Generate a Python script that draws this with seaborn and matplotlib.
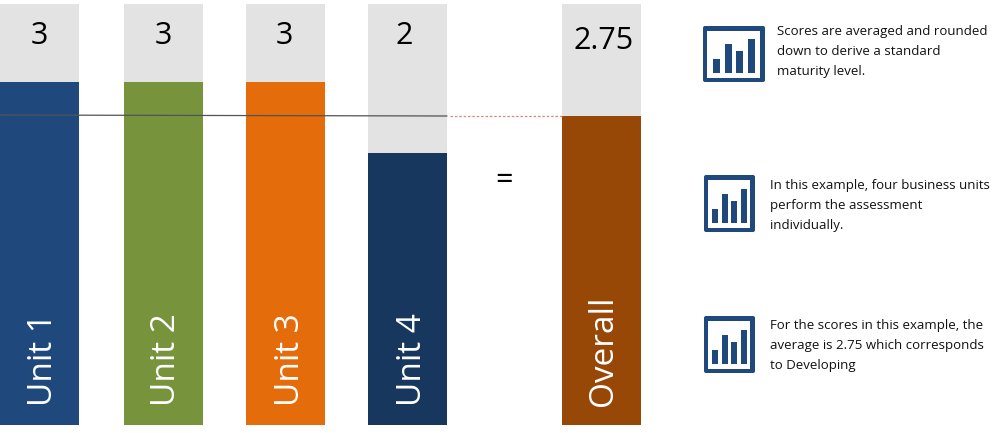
import numpy as np
import pandas as pd
import matplotlib
matplotlib.use('Agg')
import matplotlib.pyplot as plt
from matplotlib.patches import FancyBboxPatch, Rectangle
import seaborn as sns

categories = ['Unit 1', 'Unit 2', 'Unit 3', 'Unit 4', 'Overall']
score_labels = ['3', '3', '3', '2', '2.75']
# filled height of each column (pixels above the base)
fill_heights = [343, 343, 343, 272, 309]
track_heights = [421, 421, 421, 421, 421]
icon_values = [14, 29, 22, 34]
notes = [
    'Scores are averaged and rounded\ndown to derive a standard\nmaturity level.',
    'In this example, four business units\nperform the assessment\nindividually.',
    'For the scores in this example, the\naverage is 2.75 which corresponds\nto Developing',
]

bar_centers = [39.5, 163.5, 285.5, 407.5, 601.5]
bar_colors = ['#1F497D', '#77933C', '#E46C0A', '#17375E', '#974806']
bar_width = 79 / 122

sns.set_theme(style='white')
plt.rcParams['font.family'] = ['Open Sans', 'DejaVu Sans']

df = pd.DataFrame({'pos': bar_centers, 'fill': fill_heights, 'track': track_heights, 'name': categories})

fig = plt.figure(figsize=(10.03, 4.33), dpi=100)
ax = fig.add_axes([0, 0, 1, 1])

sns.barplot(data=df, x='pos', y='track', native_scale=True, color='#E3E3E3',
            width=bar_width, saturation=1, linewidth=0, ax=ax)
sns.barplot(data=df, x='pos', y='fill', hue='name', palette=bar_colors, native_scale=True,
            width=bar_width, saturation=1, dodge=False, legend=False, linewidth=0, ax=ax)

ax.set_xlim(0, 1003)
ax.set_ylim(-8, 425)
ax.axis('off')


# helper for y in image pixels
def py(y):
    return 425 - y


# reference line across the units, dotted through to the overall column
ax.plot([0, 447], [py(115), py(116)], color='#4F5457', lw=0.9, zorder=5)
ax.plot([450, 562], [py(115.5), py(115.5)], color='#D98880', lw=0.9, ls=(0, (2, 1.5)), zorder=5)

for x, label, y in zip([39, 163, 284, 404, 604], score_labels, [36, 36, 36, 36, 41]):
    ax.text(x, py(y), label, ha='center', va='center', fontsize=22, color='black')

for x, name in zip([43.5, 167, 291, 412.5, 604], categories):
    ax.text(x, py(406), name, rotation=90, ha='center', va='bottom', fontsize=24, color='white')

ax.text(504, py(181), '=', ha='center', va='center', fontsize=22, color='black')


def draw_icon(x0, y0, w, h):
    ax.add_patch(FancyBboxPatch((x0 + 2, py(y0 + h) + 2), w - 4, h - 4, boxstyle='round,pad=2,rounding_size=2',
                                fc='#1F497D', ec='none', zorder=3))
    ax.add_patch(Rectangle((x0 + 4.5, py(y0 + h) + 4.5), w - 9, h - 9.5, fc='white', ec='none', zorder=4))
    xs = x0 + w * np.array([0.157, 0.347, 0.537, 0.727])
    ax.bar(xs, icon_values, width=w * 0.115, bottom=py(y0 + h) + 9.5, align='edge',
           color='#1F497D', linewidth=0, zorder=5)


draw_icon(703, 26, 62, 56)
draw_icon(704, 175, 51, 57)
draw_icon(704, 316, 51, 57)

ax.text(777, py(51.5), notes[0], ha='left', va='center', fontsize=9.55, color='#111111', linespacing=1.72)
ax.text(770, py(205.5), notes[1], ha='left', va='center', fontsize=9.55, color='#111111', linespacing=1.72)
ax.text(770, py(345.5), notes[2], ha='left', va='center', fontsize=9.55, color='#111111', linespacing=1.72)

fig.savefig('out.png', dpi=100)
